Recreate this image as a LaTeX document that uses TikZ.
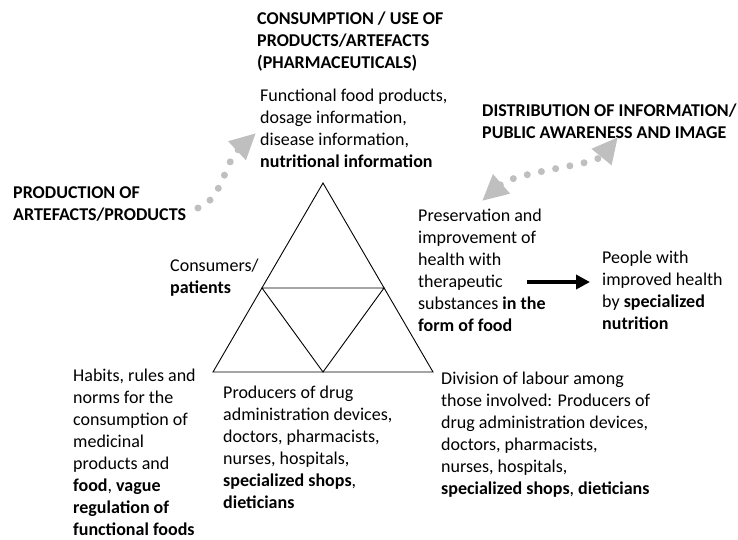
\documentclass[tikz,border=0pt]{standalone}
\usepackage{fontspec}
\setmainfont{Carlito}
\usetikzlibrary{arrows.meta}
\definecolor{dotgray}{HTML}{BFBFBF}
\begin{document}
\begin{tikzpicture}[x=1pt,y=-1pt,
  txt/.style={anchor=north west,inner sep=0pt,align=left,font=\fontsize{18}{22}\selectfont},
  tri/.style={line width=0.9pt,line join=miter},
  dotarrow/.style={dotgray,line width=7pt,line cap=round,dash pattern=on 0pt off 14.5pt},
  blackarrow/.style={line width=4.5pt,-{Triangle[length=14pt,width=14pt]}}]
\useasboundingbox (0,0) rectangle (738,539);
% triangle
\coordinate (A) at (323,183);
\coordinate (BL) at (213,372);
\coordinate (BR) at (433,372);
\coordinate (ML) at (262,288);
\coordinate (MR) at (384,288);
\coordinate (MB) at (323,372);
\draw[tri] (A) -- (BL) -- (BR) -- cycle;
\draw[tri] (ML) -- (MR) -- (MB) -- cycle;
% texts
\node[txt] (cons) at (257,8.4) {\strut\bfseries CONSUMPTION / USE OF\\\bfseries PRODUCTS/ARTEFACTS\\\bfseries (PHARMACEUTICALS)};
\node[txt] (func) at (260,85.4) {\strut Functional food products,\\dosage information,\\disease information,\\\textbf{nutritional information}};
\node[txt] (dist) at (482,100.4) {\strut\bfseries DISTRIBUTION OF INFORMATION/\\\bfseries PUBLIC AWARENESS AND IMAGE};
\node[txt] (prod) at (13,182.4) {\strut\bfseries PRODUCTION OF\\\bfseries ARTEFACTS/PRODUCTS};
\node[txt] (consumers) at (170,255.4) {\strut Consumers/\\\textbf{patients}};
\node[txt] (pres) at (418,205.4) {\strut Preservation and\\improvement of\\health with\\therapeutic\\substances \textbf{in the}\\\textbf{form of food}};
\node[txt] (people) at (602,247.4) {\strut People with\\improved health\\by \textbf{specialized}\\\textbf{nutrition}};
\node[txt] (habits) at (73,365.4) {\strut Habits, rules and\\norms for the\\consumption of\\medicinal\\products and\\\textbf{food}, \textbf{vague}\\\textbf{regulation of}\\\textbf{functional foods}};
\node[txt] (producers) at (223,382.4) {\strut Producers of drug\\administration devices,\\doctors, pharmacists,\\nurses, hospitals,\\\textbf{specialized shops},\\\textbf{dieticians}};
\node[txt] (division) at (441,368.4) {\strut Division of labour among\\those involved: Producers of\\drug administration devices,\\doctors, pharmacists,\\nurses, hospitals,\\\textbf{specialized shops}, \textbf{dieticians}};
% arrows
\coordinate (d1s) at (198,208);
\coordinate (d1e) at (256,133);
\draw[dotarrow,-{Triangle[length=26pt,width=24pt]}] (d1s) .. controls (222,200) and (225,162) .. (d1e);
\coordinate (d2s) at (482,201);
\coordinate (d2e) at (618,137);
\draw[dotarrow,{Triangle[length=26pt,width=24pt]}-{Triangle[length=26pt,width=24pt]}] (d2s) .. controls (515,172) and (595,165) .. (d2e);
\coordinate (b1) at (527,282);
\coordinate (b2) at (590,282);
\draw[blackarrow] (b1) -- (b2);
\end{tikzpicture}
\end{document}
